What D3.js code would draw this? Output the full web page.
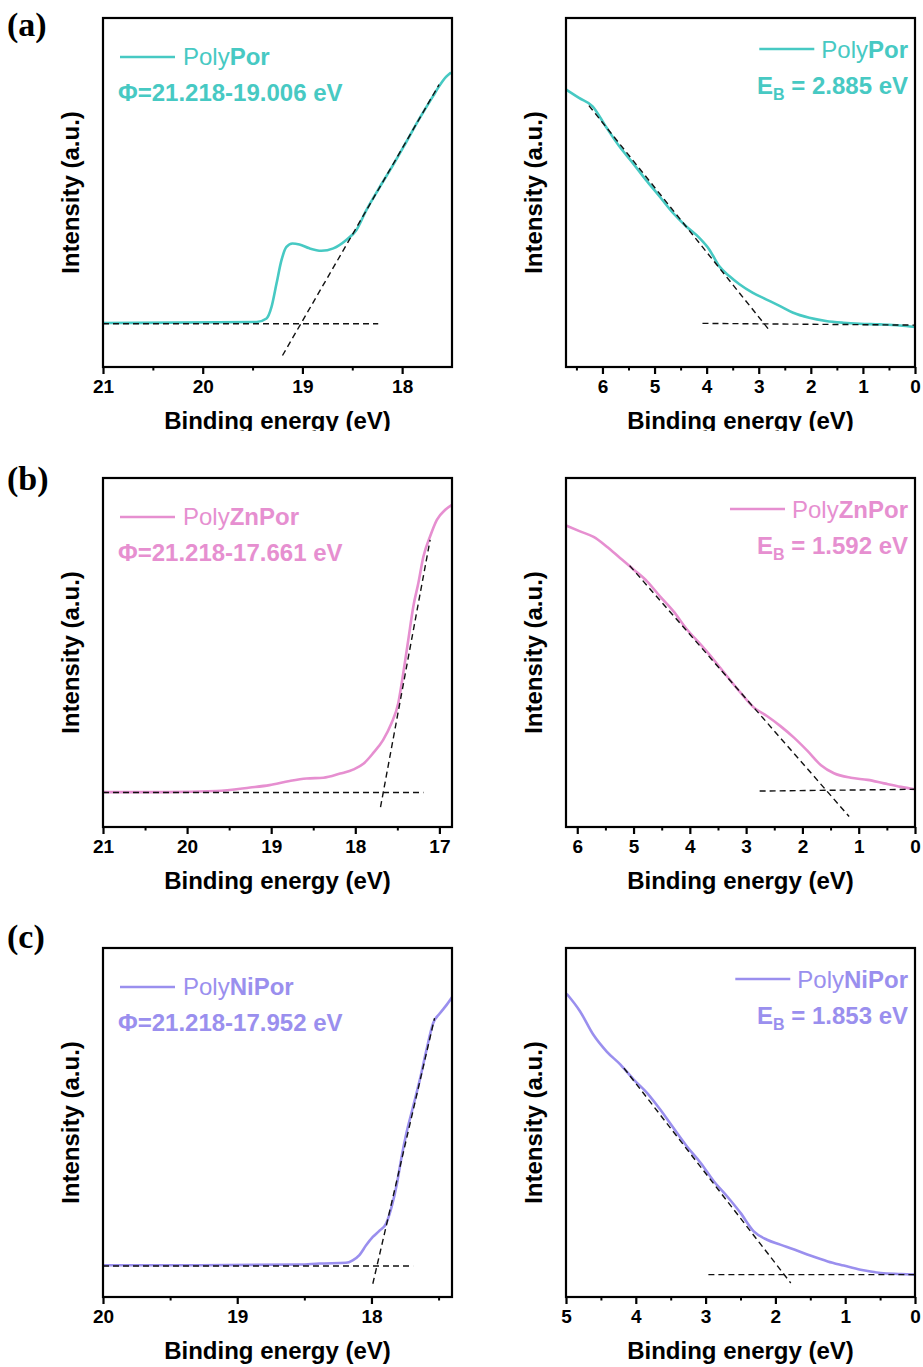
<!DOCTYPE html>
<html>
<head>
<meta charset="utf-8">
<script src="https://cdn.jsdelivr.net/npm/d3@7"></script>
<style>
  html, body { margin: 0; padding: 0; background: #fff; }
  svg { display: block; }
</style>
</head>
<body>
<svg id="chart" width="923" height="1367"></svg>
<script>
// ---------------- DATA ----------------
// (a) PolyPor – secondary electron cut-off
const porCutoffEnergy    = [21.0, 19.46, 19.36, 19.31, 19.26, 19.21, 19.16, 19.10, 19.03, 18.93, 18.81, 18.69, 18.56, 18.46, 18.36, 18.23, 18.09, 17.96, 17.83, 17.69, 17.63, 17.56, 17.51];
const porCutoffIntensity = [12.6, 12.9, 13.9, 17.2, 23.9, 30.6, 34.4, 35.4, 35.1, 34.0, 33.3, 34.0, 36.4, 39.2, 44.9, 51.3, 57.9, 64.4, 71.0, 77.6, 80.4, 83.1, 84.4];
const porCutoffBase  = [[21.0, 12.4], [18.24, 12.4]];
const porCutoffSlope = [[19.20, 3.3], [17.63, 80.9]];
// (a) PolyPor – valence band
const porValenceEnergy    = [6.70, 6.45, 6.19, 5.94, 5.68, 5.42, 5.17, 4.91, 4.65, 4.40, 4.14, 3.95, 3.76, 3.56, 3.37, 3.12, 2.86, 2.60, 2.35, 2.03, 1.71, 1.38, 1.06, 0.68, 0.29, 0.00];
const porValenceIntensity = [79.5, 77.1, 74.7, 69.0, 63.3, 58.5, 53.7, 49.0, 44.2, 40.4, 37.0, 33.7, 28.9, 26.0, 23.7, 21.3, 19.4, 17.5, 15.6, 14.1, 13.2, 12.7, 12.4, 12.2, 11.9, 11.5];
const porValenceBase  = [[4.08, 12.5], [0.0, 12.0]];
const porValenceSlope = [[6.26, 74.9], [2.81, 10.8]];

// (b) PolyZnPor – cut-off
const znCutoffEnergy    = [21.0, 20.25, 19.65, 19.25, 19.02, 18.78, 18.58, 18.38, 18.18, 18.02, 17.90, 17.79, 17.67, 17.57, 17.49, 17.43, 17.37, 17.31, 17.25, 17.19, 17.11, 17.03, 16.93, 16.85];
const znCutoffIntensity = [10.0, 10.0, 10.3, 11.3, 12.0, 13.2, 13.9, 14.1, 15.3, 16.5, 18.2, 21.1, 24.9, 29.7, 35.4, 44.0, 53.6, 63.2, 69.9, 77.5, 83.3, 88.0, 90.9, 92.3];
const znCutoffBase  = [[21.0, 9.9], [17.19, 9.9]];
const znCutoffSlope = [[17.70, 5.7], [17.11, 82.3]];
// (b) PolyZnPor – valence band
const znValenceEnergy    = [6.20, 5.95, 5.71, 5.48, 5.24, 5.00, 4.76, 4.53, 4.29, 4.05, 3.81, 3.58, 3.34, 3.10, 2.86, 2.63, 2.39, 2.15, 1.91, 1.67, 1.44, 1.14, 0.84, 0.55, 0.25, 0.00];
const znValenceIntensity = [86.4, 84.7, 83.1, 80.4, 77.1, 73.8, 70.4, 66.1, 61.8, 56.6, 52.3, 48.0, 43.2, 38.5, 34.2, 31.8, 28.9, 25.6, 21.8, 17.7, 15.4, 14.1, 13.5, 12.5, 11.5, 10.8];
const znValenceBase  = [[2.76, 10.3], [0.0, 10.8]];
const znValenceSlope = [[5.07, 74.9], [1.17, 3.0]];

// (c) PolyNiPor – cut-off
const niCutoffEnergy    = [20.0, 19.28, 18.53, 18.39, 18.19, 18.14, 18.09, 18.04, 17.99, 17.94, 17.89, 17.85, 17.81, 17.78, 17.74, 17.69, 17.64, 17.59, 17.54, 17.49, 17.44, 17.40];
const niCutoffIntensity = [9.1, 9.1, 9.3, 9.6, 9.8, 10.5, 12.0, 14.8, 17.2, 19.0, 21.1, 25.8, 32.5, 39.2, 46.9, 54.5, 62.2, 70.8, 78.5, 81.3, 83.7, 85.9];
const niCutoffBase  = [[20.0, 8.9], [17.69, 8.9]];
const niCutoffSlope = [[17.99, 3.8], [17.53, 79.9]];
// (c) PolyNiPor – valence band
const niValenceEnergy    = [4.99, 4.80, 4.61, 4.42, 4.22, 4.03, 3.84, 3.65, 3.46, 3.27, 3.07, 2.88, 2.69, 2.50, 2.31, 2.12, 1.93, 1.73, 1.49, 1.25, 1.02, 0.78, 0.49, 0.20, 0.00];
const niValenceIntensity = [86.9, 81.9, 75.2, 70.4, 66.6, 62.3, 58.5, 53.7, 48.4, 43.2, 38.4, 33.1, 28.8, 24.1, 18.8, 16.4, 15.0, 13.6, 11.8, 10.2, 9.0, 7.8, 6.9, 6.6, 6.4];
const niValenceBase  = [[2.96, 6.4], [0.0, 6.4]];
const niValenceSlope = [[4.17, 65.6], [1.78, 4.0]];

// axis domains and ticks
const cutoffDomains   = [[21, 17.5], [21, 16.85], [20, 17.4]];
const valenceDomains  = [[6.7, 0], [6.2, 0], [5, 0]];
const cutoffTicks     = [[21, 20, 19, 18], [21, 20, 19, 18, 17], [20, 19, 18]];
const cutoffMinor     = [[20.5, 19.5, 18.5], [20.5, 19.5, 18.5, 17.5], [19.5, 18.5, 17.5]];
const valenceTicks    = [[6, 5, 4, 3, 2, 1, 0], [6, 5, 4, 3, 2, 1, 0], [5, 4, 3, 2, 1, 0]];
const valenceMinor    = [[6.5, 5.5, 4.5, 3.5, 2.5, 1.5, 0.5], [5.5, 4.5, 3.5, 2.5, 1.5, 0.5], [4.5, 3.5, 2.5, 1.5, 0.5]];

// labels
const panelLetters  = ["(a)", "(b)", "(c)"];
const sampleMetal   = ["Por", "ZnPor", "NiPor"];
const workFunctions = ["Φ=21.218-19.006 eV", "Φ=21.218-17.661 eV", "Φ=21.218-17.952 eV"];
const bindingEnergy = ["2.885", "1.592", "1.853"];
const seriesColors  = ["#47c9c3", "#e68fd0", "#9a8fee"];
const xTitle = "Binding energy (eV)";
const yTitle = "Intensity (a.u.)";

// ---------------- LAYOUT ----------------
const rowTops = [18, 478, 948];
const boxH = 349;
const leftX = [103, 452];
const rightX = [566, 915];
const SANS = "'Liberation Sans', Arial, Helvetica, sans-serif";
const SERIF = "'Liberation Serif', 'Times New Roman', serif";

const svg = d3.select("#chart");

const rows = [
  {cE: porCutoffEnergy, cI: porCutoffIntensity, cB: porCutoffBase, cS: porCutoffSlope,
   vE: porValenceEnergy, vI: porValenceIntensity, vB: porValenceBase, vS: porValenceSlope},
  {cE: znCutoffEnergy, cI: znCutoffIntensity, cB: znCutoffBase, cS: znCutoffSlope,
   vE: znValenceEnergy, vI: znValenceIntensity, vB: znValenceBase, vS: znValenceSlope},
  {cE: niCutoffEnergy, cI: niCutoffIntensity, cB: niCutoffBase, cS: niCutoffSlope,
   vE: niValenceEnergy, vI: niValenceIntensity, vB: niValenceBase, vS: niValenceSlope}
];

function drawPanel(r, xr, domain, ticks, minor, E, I, base, slope, isLeft) {
  const top = rowTops[r], bottom = top + boxH;
  const x = d3.scaleLinear().domain(domain).range(xr);
  const y = d3.scaleLinear().domain([0, 100]).range([bottom, top]);
  const color = seriesColors[r];
  const g = svg.append("g");

  // curve
  const pts = E.map((e, i) => [e, I[i]]);
  g.append("path")
    .datum(pts)
    .attr("fill", "none")
    .attr("stroke", color)
    .attr("stroke-width", 2.6)
    .attr("stroke-linejoin", "round")
    .attr("d", d3.line().x(d => x(d[0])).y(d => y(d[1])).curve(d3.curveMonotoneX));

  // fit lines
  [base, slope].forEach(seg => {
    g.append("path")
      .datum(seg)
      .attr("fill", "none")
      .attr("stroke", "#111")
      .attr("stroke-width", 1.4)
      .attr("stroke-dasharray", "6,4")
      .attr("d", d3.line().x(d => x(d[0])).y(d => y(d[1])));
  });

  // frame
  g.append("rect")
    .attr("x", xr[0]).attr("y", top)
    .attr("width", xr[1] - xr[0]).attr("height", boxH)
    .attr("fill", "none").attr("stroke", "#000").attr("stroke-width", 2.2);

  // minor ticks
  const minorAxis = d3.axisBottom(x).tickValues(minor).tickSize(3.5).tickFormat("");
  const gm = g.append("g").attr("transform", `translate(0,${bottom})`).call(minorAxis);
  gm.select(".domain").remove();
  gm.selectAll("line").attr("stroke", "#000").attr("stroke-width", 2);

  // major ticks
  const majorAxis = d3.axisBottom(x).tickValues(ticks).tickSize(7).tickPadding(6).tickFormat(d3.format("d"));
  const ga = g.append("g").attr("transform", `translate(0,${bottom})`).call(majorAxis);
  ga.select(".domain").remove();
  ga.selectAll("line").attr("stroke", "#000").attr("stroke-width", 2.2);
  ga.selectAll("text")
    .attr("font-family", SANS).attr("font-weight", "bold")
    .attr("font-size", 19).attr("fill", "#000")
    .attr("dy", "0.71em");

  // axis titles
  g.append("text")
    .attr("x", (xr[0] + xr[1]) / 2).attr("y", bottom + 62)
    .attr("text-anchor", "middle")
    .attr("font-family", SANS).attr("font-weight", "bold").attr("font-size", 24)
    .text(xTitle);
  const yx = xr[0] - 24;
  g.append("text")
    .attr("transform", `translate(${yx},${(top + bottom) / 2}) rotate(-90)`)
    .attr("text-anchor", "middle")
    .attr("font-family", SANS).attr("font-weight", "bold").attr("font-size", 24)
    .text(yTitle);

  // legend
  if (isLeft) {
    g.append("line")
      .attr("x1", 120).attr("x2", 175)
      .attr("y1", top + 39).attr("y2", top + 39)
      .attr("stroke", color).attr("stroke-width", 2.6);
    const t = g.append("text")
      .attr("x", 183).attr("y", top + 47)
      .attr("font-family", SANS).attr("font-size", 24).attr("fill", color);
    t.append("tspan").text("Poly");
    t.append("tspan").attr("font-weight", "bold").text(sampleMetal[r]);
    g.append("text")
      .attr("x", 118).attr("y", top + 83)
      .attr("font-family", SANS).attr("font-weight", "bold").attr("font-size", 24)
      .attr("fill", color)
      .text(workFunctions[r]);
  } else {
    const endX = 908;
    const t = g.append("text")
      .attr("x", endX).attr("y", top + 40)
      .attr("text-anchor", "end")
      .attr("font-family", SANS).attr("font-size", 24).attr("fill", color);
    t.append("tspan").text("Poly");
    t.append("tspan").attr("font-weight", "bold").text(sampleMetal[r]);
    const w = t.node().getComputedTextLength();
    const startX = endX - w;
    g.append("line")
      .attr("x1", startX - 62).attr("x2", startX - 7)
      .attr("y1", top + 31).attr("y2", top + 31)
      .attr("stroke", color).attr("stroke-width", 2.6);
    const e = g.append("text")
      .attr("x", endX).attr("y", top + 76)
      .attr("text-anchor", "end")
      .attr("font-family", SANS).attr("font-weight", "bold").attr("font-size", 24)
      .attr("fill", color);
    e.append("tspan").text("E");
    e.append("tspan").attr("font-size", 16).attr("dy", 6).text("B");
    e.append("tspan").attr("dy", -6).text(" = " + bindingEnergy[r] + " eV");
  }
}

rows.forEach((row, r) => {
  drawPanel(r, leftX, cutoffDomains[r], cutoffTicks[r], cutoffMinor[r], row.cE, row.cI, row.cB, row.cS, true);
  drawPanel(r, rightX, valenceDomains[r], valenceTicks[r], valenceMinor[r], row.vE, row.vI, row.vB, row.vS, false);
});

// first row x-titles are cropped in the original figure
svg.append("rect").attr("x", 0).attr("y", 431).attr("width", 923).attr("height", 26).attr("fill", "#fff");

// panel letters
const letterBaselines = [36, 490, 948];
panelLetters.forEach((l, i) => {
  svg.append("text")
    .attr("x", 7).attr("y", letterBaselines[i])
    .attr("font-family", SERIF).attr("font-weight", "bold").attr("font-size", 34)
    .text(l);
});
</script>
</body>
</html>
